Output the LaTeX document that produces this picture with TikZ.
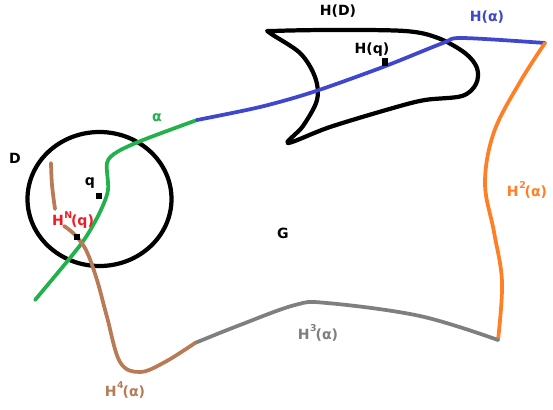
\documentclass[tikz,border=0pt]{standalone}
\usepackage{fontspec}
\setmainfont{DejaVu Sans}
\usetikzlibrary{positioning}
\definecolor{pgreen}{HTML}{22B14C}
\definecolor{pblue}{HTML}{3F48CC}
\definecolor{porange}{HTML}{FF7F27}
\definecolor{pgray}{HTML}{7F7F7F}
\definecolor{pbrown}{HTML}{B97A57}
\definecolor{pred}{HTML}{ED1C24}
% H with a raised index before the bracket
\newcommand{\hsup}[2]{H\kern0.5pt\raisebox{1.0ex}{\footnotesize #1}\kern-1pt#2}
\tikzset{
  curve/.style={line width=3.2pt,line cap=round,line join=round},
  blk/.style={curve,draw=black,line width=3.6pt},
  lbl/.style={inner sep=1pt,font=\bfseries\fontsize{12}{14}\selectfont},
  pt/.style={fill=black,inner sep=0pt,minimum size=5pt},
}
\begin{document}
\begin{tikzpicture}[x=0.03cm,y=-0.03cm]
\useasboundingbox (0,0) rectangle (553,409);

% the disc D and its image H(D)
\draw[blk] (99.5,199) ellipse [x radius=72, y radius=67];
\draw[blk] plot[smooth cycle,tension=0.55] coordinates {
  (270,33) (300,53) (315,77) (317,100) (303,126) (288,143)
  (330,127) (393,108) (425,100) (462,96) (476,84) (477,68)
  (465,53) (438,38) (405,31) (330,30) (274,31)};

% junctions of the path
\coordinate (a0) at (35,300);
\coordinate (a1) at (197,120);
\coordinate (a2) at (545,43);
\coordinate (a3) at (498,340);
\coordinate (a4) at (195,343);

% alpha and its images
\draw[curve,pgreen] plot[smooth,tension=0.5] coordinates {
  (a0) (70,258) (86,237) (100,212) (108,190) (107,163) (117,152) (143,140) (a1)};
\draw[curve,pblue] plot[smooth,tension=0.5] coordinates {
  (a1) (260,107) (313,92) (383,67) (443,43) (462,38) (a2)};
\draw[curve,porange] plot[smooth,tension=0.6] coordinates {
  (a2) (520,82) (494,132) (485,183) (494,232) (502,282) (a3)};
\draw[curve,pgray] plot[smooth,tension=0.6] coordinates {
  (a3) (420,316) (327,303) (295,305) (240,325) (a4)};
\draw[curve,pbrown] plot[smooth,tension=0.6] coordinates {
  (a4) (165,362) (140,372) (120,362) (107,317) (97,280) (86,250) (74,234) (64,226)};
\draw[curve,pbrown] plot[smooth,tension=0.6] coordinates {
  (55,209) (52,185) (51,163)};

% points
\node[pt] (q) at (99,196) {};
\node[pt] (hnq) at (77,237) {};
\node[pt,minimum width=5pt,minimum height=7pt] (hq) at (385,62) {};

% labels
\node[lbl] (lD) at (15,158) {D};
\node[lbl] (lq) at (90,183) {q};
\node[lbl] (lHD) at (338,11) {H(D)};
\node[lbl] (lHq) at (372,50) {H(q)};
\node[lbl,pblue] (lHa) at (487,17) {H(α)};
\node[lbl,pgreen] (la) at (157,118) {α};
\node[lbl] (lG) at (283,233) {G};
\node[lbl,pred] (lHN) at (73,220) {\hsup{N}{(q)}};
\node[lbl,porange] (lH2) at (527,190) {\hsup{2}{(α)}};
\node[lbl,pgray] (lH3) at (318,333) {\hsup{3}{(α)}};
\node[lbl,pbrown] (lH4) at (125,390) {\hsup{4}{(α)}};
\end{tikzpicture}
\end{document}
